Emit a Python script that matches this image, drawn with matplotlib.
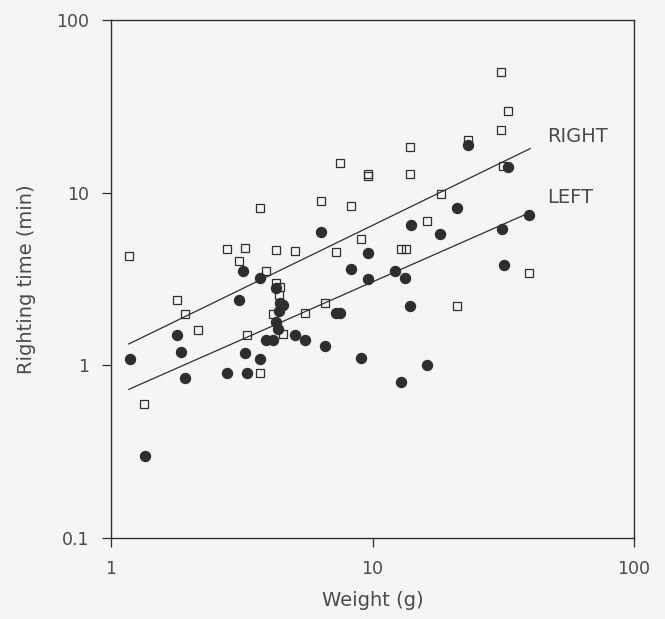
import numpy as np
import matplotlib.pyplot as plt

# RIGHT side (open squares): weight (g), righting time (min)
right_w = [1.17, 1.34, 1.79, 1.92, 2.16, 2.78, 3.10, 3.26, 3.32, 3.72, 3.72,
           3.92, 4.29, 4.28, 4.44, 4.39, 4.15, 4.54, 5.04, 5.51, 6.38, 6.57,
           7.24, 7.49, 8.31, 9.06, 9.65, 9.65, 12.8, 13.4, 13.9, 13.9, 16.1,
           18.3, 21.1, 23.2, 31.0, 31.1, 32.9, 31.5, 39.6]
right_t = [4.27, 0.60, 2.40, 1.97, 1.60, 4.70, 4.01, 4.80, 1.50, 8.15, 0.90,
           3.50, 4.65, 2.99, 2.83, 2.57, 1.98, 1.52, 4.60, 2.02, 8.96, 2.30,
           4.51, 14.9, 8.32, 5.41, 12.9, 12.5, 4.70, 4.70, 18.3, 12.9, 6.89,
           9.84, 2.21, 20.1, 50.3, 23.1, 29.9, 14.3, 3.41]

# LEFT side (filled circles)
left_w = [1.18, 1.35, 1.79, 1.85, 1.92, 2.78, 3.10, 3.19, 3.26, 3.32, 3.72,
          3.72, 3.91, 4.18, 4.29, 4.42, 4.54, 4.39, 4.29, 4.36, 5.04, 5.51,
          6.38, 6.57, 7.24, 7.52, 8.31, 9.06, 9.65, 9.65, 12.2, 12.8, 13.3,
          13.9, 14.0, 16.1, 18.1, 21.1, 23.2, 31.2, 31.8, 32.9, 39.7]
left_t = [1.09, 0.30, 1.50, 1.20, 0.84, 0.90, 2.38, 3.50, 1.18, 0.90, 3.20,
          1.09, 1.40, 1.40, 2.81, 2.31, 2.25, 2.06, 1.78, 1.62, 1.50, 1.41,
          5.89, 1.30, 2.00, 2.00, 3.60, 1.10, 4.48, 3.17, 3.50, 0.80, 3.19,
          2.20, 6.51, 1.00, 5.77, 8.19, 18.8, 6.17, 3.81, 14.0, 7.42]

# fitted lines, end points
fit_w = [1.17, 40.1]
right_fit = [1.33, 18.0]
left_fit = [0.726, 7.69]

ink = '#2e2e2e'
txt = '#4a4a4a'
bg = '#f6f5f3'
plt.rcParams['font.family'] = ['DejaVu Sans']

fig = plt.figure(figsize=(6.65, 6.19), dpi=100, facecolor=bg)
ax = fig.add_axes([111 / 665, 1 - 538 / 619, 523 / 665, 518 / 619])
ax.set_facecolor(bg)

ax.plot(fit_w, right_fit, color=ink, lw=0.9, zorder=1)
ax.plot(fit_w, left_fit, color=ink, lw=0.9, zorder=1)
ax.plot(right_w, right_t, 's', ms=6.2, mfc='none', mec=ink, mew=0.9, zorder=2)
ax.plot(left_w, left_t, 'o', ms=7.2, mfc=ink, mec=ink, zorder=3)

ax.text(46.5, 21.1, 'RIGHT', fontsize=14, color=txt, va='center', ha='left')
ax.text(46.5, 9.35, 'LEFT', fontsize=14, color=txt, va='center', ha='left')

ax.set_xscale('log')
ax.set_yscale('log')
ax.set_xlim(1, 100)
ax.set_ylim(0.1, 100)
ax.set_xticks([1, 10, 100])
ax.set_xticklabels(['1', '10', '100'])
ax.set_yticks([0.1, 1, 10, 100])
ax.set_yticklabels(['0.1', '1', '10', '100'])
ax.minorticks_off()
ax.tick_params(direction='out', length=6.5, width=0.9, color=ink,
               labelsize=12.5, labelcolor=txt, pad=9)
for s in ax.spines.values():
    s.set_color(ink)
    s.set_linewidth(1.0)

ax.set_xlabel('Weight (g)', fontsize=14, color=txt, labelpad=10)
ax.set_ylabel('Righting time (min)', fontsize=14, color=txt, labelpad=15)

plt.savefig('out.png', dpi=100, facecolor=bg)
